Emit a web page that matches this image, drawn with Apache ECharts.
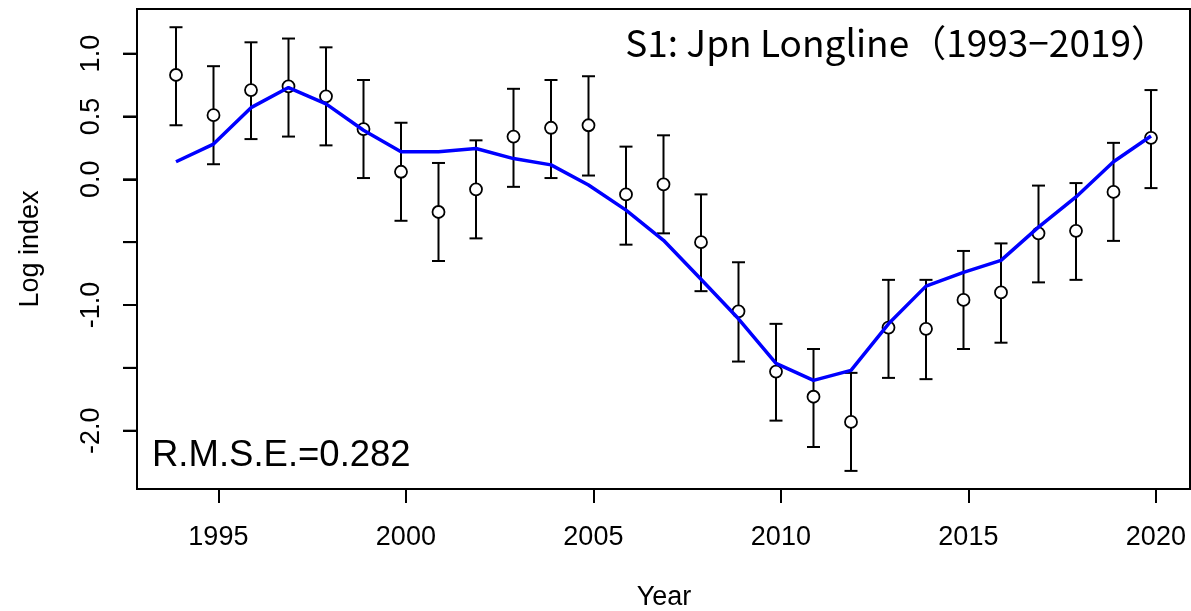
<!DOCTYPE html>
<html>
<head>
<meta charset="utf-8">
<script src="https://cdn.jsdelivr.net/npm/echarts@6/dist/echarts.min.js"></script>
<style>
html, body { margin: 0; padding: 0; background: #fff; }
#main { width: 1191px; height: 611px; }
</style>
</head>
<body>
<div id="main"></div>
<script>
// survey years and log index values
var years = [1993, 1994, 1995, 1996, 1997, 1998, 1999, 2000, 2001, 2002, 2003, 2004, 2005, 2006,
             2007, 2008, 2009, 2010, 2011, 2012, 2013, 2014, 2015, 2016, 2017, 2018, 2019];
var observed = [0.83, 0.51, 0.71, 0.74, 0.66, 0.40, 0.06, -0.26, -0.08, 0.34, 0.41, 0.43, -0.12, -0.04,
                -0.50, -1.05, -1.53, -1.73, -1.93, -1.18, -1.19, -0.96, -0.90, -0.43, -0.41, -0.10, 0.33];
var upper = [1.21, 0.90, 1.09, 1.12, 1.05, 0.79, 0.45, 0.13, 0.31, 0.72, 0.79, 0.82, 0.26, 0.35,
             -0.12, -0.66, -1.15, -1.35, -1.54, -0.80, -0.80, -0.57, -0.51, -0.05, -0.03, 0.29, 0.71];
var lower = [0.43, 0.12, 0.32, 0.34, 0.27, 0.01, -0.33, -0.65, -0.47, -0.06, 0.01, 0.03, -0.52, -0.43,
             -0.89, -1.45, -1.92, -2.13, -2.32, -1.58, -1.59, -1.35, -1.30, -0.82, -0.80, -0.49, -0.07];
var fitted = [0.14, 0.28, 0.57, 0.73, 0.60, 0.39, 0.22, 0.22, 0.245, 0.165, 0.115, -0.045, -0.245, -0.485,
              -0.795, -1.11, -1.465, -1.60, -1.52, -1.15, -0.85, -0.74, -0.645, -0.38, -0.14, 0.14, 0.345];
var xTicks = [1995, 2000, 2005, 2010, 2015, 2020];
var yTicks = [-2, -1.5, -1, -0.5, 0, 0.5, 1];
var yLabels = [-2, -1, 0, 0.5, 1];
var titleText = 'S1: Jpn Longline（1993−2019）';
var rmseText = 'R.M.S.E.=0.282';

// points sit a little before the next year's tick in the original plot
var yearShift = 0.87;
var xMin = 1992.83, xMax = 2020.91;
var yMin = -2.464, yMax = 1.355;

var pointData = [], lineData = [], barData = [];
for (var i = 0; i < years.length; i++) {
	var x = years[i] + yearShift;
	pointData.push([x, observed[i]]);
	lineData.push([x, fitted[i]]);
	barData.push([x, lower[i], upper[i]]);
}

function renderErrorBar(params, api) {
	var x = api.value(0);
	var pLo = api.coord([x, api.value(1)]);
	var pHi = api.coord([x, api.value(2)]);
	var half = 6.5;
	var style = { stroke: '#000', lineWidth: 2 };
	return {
		type: 'group',
		children: [
			{ type: 'line', shape: { x1: pLo[0], y1: pLo[1], x2: pHi[0], y2: pHi[1] }, style: style },
			{ type: 'line', shape: { x1: pLo[0] - half, y1: pLo[1], x2: pLo[0] + half, y2: pLo[1] }, style: style },
			{ type: 'line', shape: { x1: pHi[0] - half, y1: pHi[1], x2: pHi[0] + half, y2: pHi[1] }, style: style }
		]
	};
}

var font = '"Liberation Sans", Arial, sans-serif';

var option = {
	animation: false,
	grid: {
		left: 137,
		top: 9,
		width: 1053,
		bottom: 122,
		show: true,
		borderColor: '#000',
		borderWidth: 2
	},
	xAxis: {
		type: 'value',
		min: xMin,
		max: xMax,
		axisLine: { show: true, onZero: false, lineStyle: { color: '#000', width: 2 } },
		splitLine: { show: false },
		axisTick: { show: true, inside: false, length: 14, customValues: xTicks, lineStyle: { color: '#000', width: 2 } },
		axisLabel: {
			customValues: xTicks,
			margin: 35,
			color: '#000',
			fontSize: 27,
			fontFamily: font,
			formatter: function (v) { return String(v); }
		}
	},
	yAxis: {
		type: 'value',
		min: yMin,
		max: yMax,
		axisLine: { show: true, onZero: false, lineStyle: { color: '#000', width: 2 } },
		splitLine: { show: false },
		axisTick: { show: true, inside: false, length: 14, customValues: yTicks, lineStyle: { color: '#000', width: 2 } },
		axisLabel: {
			customValues: yLabels,
			rotate: 90,
			margin: 32,
			color: '#000',
			fontSize: 27,
			fontFamily: font,
			formatter: function (v) { return v.toFixed(1); }
		}
	},
	graphic: [
		{
			type: 'text', x: 1168, y: 43,
			style: { text: titleText, fill: '#000', font: '37px "Noto Sans CJK JP", sans-serif', align: 'right', verticalAlign: 'middle' }
		},
		{
			type: 'text', x: 152, y: 456,
			style: { text: rmseText, fill: '#000', font: '36.5px ' + font, align: 'left', verticalAlign: 'middle' }
		},
		{
			type: 'text', x: 664, y: 598,
			style: { text: 'Year', fill: '#000', font: '27px ' + font, align: 'center', verticalAlign: 'middle' }
		},
		{
			type: 'text', x: 31, y: 249, rotation: Math.PI / 2,
			style: { text: 'Log index', fill: '#000', font: '27px ' + font, align: 'center', verticalAlign: 'middle' }
		}
	],
	series: [
		{
			name: 'CI',
			type: 'custom',
			renderItem: renderErrorBar,
			data: barData
		},
		{
			name: 'Observed',
			type: 'scatter',
			data: pointData,
			symbol: 'circle',
			symbolSize: 12,
			itemStyle: { color: '#fff', opacity: 1, borderColor: '#000', borderWidth: 1.8 }
		},
		{
			name: 'Fitted',
			type: 'line',
			data: lineData,
			showSymbol: false,
			lineStyle: { color: '#0000ff', width: 3.5 }
		}
	]
};

var myChart = echarts.init(document.getElementById('main'));
myChart.setOption(option);

// left-axis tick marks placed through the chart's y scale, kept on top
var tickMarks = yTicks.map(function (v) {
	var p = myChart.convertToPixel({ gridIndex: 0 }, [xMin, v]);
	return {
		type: 'line',
		z: 100,
		shape: { x1: p[0] - 14, y1: p[1], x2: p[0], y2: p[1] },
		style: { stroke: '#000', lineWidth: 2 }
	};
});
myChart.setOption({ graphic: option.graphic.concat(tickMarks) });
</script>
</body>
</html>
